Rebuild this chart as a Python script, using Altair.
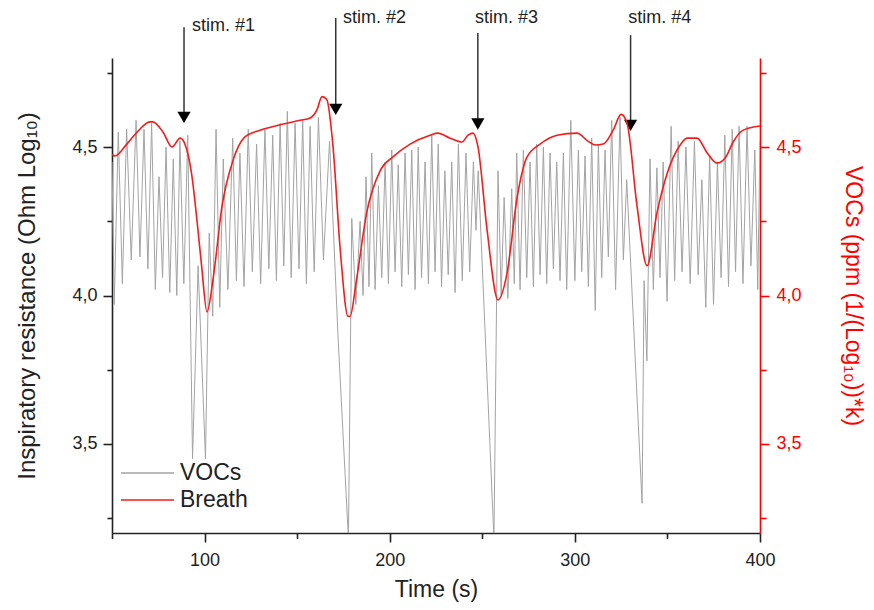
import altair as alt
import pandas as pd

FONT = "Liberation Sans"

# ---- VOCs trace (grey): alternating peaks / troughs ----
voc_time = [
    50.0, 51.2, 53.4, 55.6, 57.9, 60.4, 63.0, 65.1, 67.3, 69.4,
    71.4, 73.4, 75.4, 77.3, 79.2, 81.2, 83.1, 85.0, 86.7, 88.8,
    90.9, 93.5, 96.5, 100.5, 102.5, 104.4,
    106.2, 108.2, 110.1, 112.6, 115.2, 117.2, 119.1, 121.3, 123.6, 125.8,
    128.1, 130.3, 132.6, 134.7, 136.8, 138.8, 140.8, 142.8, 144.7, 146.8,
    148.9, 151.0, 153.0, 155.0, 157.0, 159.2, 161.5, 164.2, 167.5, 172.1,
    177.7,
    179.5, 181.7, 184.0, 185.6, 187.2, 188.8, 190.3, 192.1, 193.9, 195.7,
    197.5, 199.3, 201.1, 202.9, 204.6, 206.5, 208.3, 210.1, 211.9, 213.7,
    215.4, 217.2, 219.1, 220.9, 222.7, 224.5, 226.2, 228.0, 229.8, 231.6,
    233.5, 235.3, 237.1, 239.2, 241.2, 243.2, 245.2, 246.6, 247.8, 256.3,
    258.5, 260.2, 261.8, 263.8, 265.9, 267.3, 268.6, 270.4, 272.2, 274.0,
    275.8, 277.6, 279.4, 281.2, 283.0, 284.8, 286.6, 288.4, 290.2, 292.0,
    293.8, 295.6, 297.8, 300.0, 301.9, 303.7, 305.5, 307.3, 309.1, 311.0,
    312.7, 314.5, 316.3, 318.1, 319.9, 322.0, 324.4, 326.2, 328.0, 336.3,
    337.4, 338.9,
    340.6, 342.4, 344.3, 346.0, 347.7, 349.8, 352.0, 353.9, 355.8, 357.9,
    360.0, 362.3, 364.6, 366.6, 368.6, 370.7, 372.8, 374.9, 377.0, 379.0,
    381.0, 383.0, 385.0, 386.8, 388.7, 390.8, 393.0, 395.1, 397.2, 398.8,
    400.0,
]
voc_value = [
    4.45, 3.97, 4.55, 4.04, 4.56, 4.12, 4.59, 4.13, 4.56, 4.09,
    4.58, 4.02, 4.40, 4.06, 4.50, 4.01, 4.46, 4.00, 4.52, 4.04,
    4.54, 3.45, 4.10, 3.45, 4.21, 3.93,
    4.56, 3.96, 4.46, 4.02, 4.53, 4.05, 4.48, 4.03, 4.56, 4.08,
    4.51, 4.04, 4.56, 4.09, 4.54, 4.05, 4.58, 4.10, 4.62, 4.06,
    4.58, 4.09, 4.59, 4.04, 4.57, 4.08, 4.60, 4.12, 4.52, 3.86,
    3.18,
    4.26, 3.97, 4.25, 4.00, 4.40, 4.03, 4.48, 4.02, 4.37, 4.06,
    4.45, 4.04, 4.49, 4.08, 4.44, 4.03, 4.48, 4.07, 4.49, 4.02,
    4.50, 4.06, 4.45, 4.04, 4.54, 4.08, 4.51, 4.03, 4.42, 4.07,
    4.45, 4.01, 4.51, 4.05, 4.48, 4.08, 4.45, 4.22, 4.42, 3.18,
    4.42, 4.00, 4.33, 3.99, 4.36, 4.04, 4.48, 4.02, 4.49, 4.06,
    4.45, 4.03, 4.51, 4.07, 4.50, 4.04, 4.48, 4.09, 4.45, 4.05,
    4.48, 4.02, 4.59, 4.05, 4.49, 4.08, 4.47, 4.03, 4.53, 3.95,
    4.51, 4.06, 4.49, 4.13, 4.59, 4.02, 4.60, 4.12, 4.39, 3.30,
    4.05, 3.78,
    4.46, 4.02, 4.43, 4.06, 4.45, 3.98, 4.57, 4.05, 4.52, 4.08,
    4.50, 4.04, 4.52, 4.07, 4.39, 3.96, 4.47, 3.97, 4.45, 4.06,
    4.54, 4.03, 4.56, 4.08, 4.57, 4.04, 4.57, 4.10, 4.49, 4.02,
    4.52,
]

# ---- Breath trace (red) ----
breath_time = [
    50.0, 51.6, 58.0, 63.5, 70.5, 72.0, 77.6, 82.4, 86.8, 89.4,
    93.0, 96.6, 98.4, 101.3, 104.7, 109.4, 115.4, 121.8, 130.0, 140.8,
    151.6, 157.0, 160.7, 163.4, 166.0, 169.4, 173.2, 177.5, 178.6, 182.0,
    187.6, 194.8, 201.8, 211.0, 221.8, 226.0, 232.6, 239.0, 242.3, 245.0,
    247.7, 252.6, 258.5, 263.4, 268.8, 274.2, 281.2, 290.4, 301.2, 307.0,
    311.0, 315.3, 320.7, 325.0, 328.2, 333.6, 339.0, 344.4, 349.8, 356.9,
    360.6, 366.0, 371.5, 376.8, 381.2, 385.5, 390.9, 400.0,
]
breath_value = [
    4.474, 4.47, 4.51, 4.55, 4.585, 4.585, 4.55, 4.50, 4.53, 4.51,
    4.41, 4.21, 4.10, 3.945, 4.06, 4.30, 4.456, 4.534, 4.557, 4.575,
    4.59, 4.598, 4.625, 4.67, 4.66, 4.50, 4.16, 3.93, 3.93, 4.05,
    4.28, 4.42, 4.467, 4.51, 4.54, 4.547, 4.53, 4.517, 4.54, 4.547,
    4.50, 4.22, 3.985, 4.076, 4.33, 4.467, 4.51, 4.54, 4.547, 4.52,
    4.507, 4.51, 4.557, 4.61, 4.58, 4.30, 4.10, 4.28, 4.41, 4.507,
    4.53, 4.53, 4.48, 4.446, 4.463, 4.517, 4.557, 4.571,
]

# ---- stimulus annotations ----
stim_labels = ["stim. #1", "stim. #2", "stim. #3", "stim. #4"]
stim_time = [88.9, 170.85, 247.6, 330.1]
arrow_top = [4.904, 4.935, 4.884, 4.877]
arrow_head = [4.600, 4.627, 4.578, 4.573]
label_time = [93.2, 174.8, 246.1, 328.8]
label_value = [4.908, 4.935, 4.936, 4.936]

series_names = ["VOCs", "Breath"]
x_ticks = [50, 100, 150, 200, 250, 300, 350, 400]
y_ticks = [3.25, 3.5, 3.75, 4.0, 4.25, 4.5, 4.75]

voc_df = pd.DataFrame({"t": voc_time, "v": voc_value, "series": "VOCs"})
breath_df = pd.DataFrame({"t": breath_time, "v": breath_value, "series": "Breath"})
stim_df = pd.DataFrame({
    "t": stim_time, "top": arrow_top, "head": arrow_head,
    "label": stim_labels, "lt": label_time, "lv": label_value,
})

x_scale = alt.Scale(domain=[50, 400], nice=False, zero=False)
y_scale = alt.Scale(domain=[3.2, 4.8], nice=False, zero=False)

INK = "#222222"
RED = "#ff0000"
y_label_expr = "datum.value % 0.5 === 0 ? replace(format(datum.value, '.1f'), '.', ',') : ''"

x_axis = alt.Axis(
    values=x_ticks, title="Time (s)",
    labelExpr="datum.value % 100 === 0 ? datum.label : ''",
    labelFlush=False,
    tickSize={"condition": {"test": "datum.value % 100 === 0", "value": 9}, "value": 5.5},
    domainColor=INK, tickColor=INK, labelColor=INK, titleColor=INK,
    domainWidth=1.6, tickWidth=1.6, labelFontSize=18, labelPadding=9,
    titleFontSize=23, titleFontWeight="normal", titleY=63, titleBaseline="alphabetic",
    grid=False,
)
left_axis = alt.Axis(
    orient="left", values=y_ticks, title="Inspiratory resistance (Ohm Log₁₀)",
    labelExpr=y_label_expr, labelFlush=False,
    tickSize={"condition": {"test": "datum.value % 0.5 === 0", "value": 9}, "value": 5},
    domainColor=INK, tickColor=INK, labelColor=INK, titleColor=INK,
    domainWidth=1.6, tickWidth=1.6, labelFontSize=18, labelPadding=6,
    titleFontSize=24, titleFontWeight="normal", titleAngle=-90,
    titleX=-78, titleBaseline="alphabetic", grid=False,
)
right_axis = alt.Axis(
    orient="right", values=y_ticks, title="VOCs (ppm (1/(Log₁₀))*k)",
    labelExpr=y_label_expr, labelFlush=False,
    tickSize={"condition": {"test": "datum.value % 0.5 === 0", "value": 9}, "value": 6},
    domainColor=RED, tickColor=RED, labelColor=RED, titleColor=RED,
    domainWidth=1.6, tickWidth=1.6, labelFontSize=18, labelPadding=7,
    titleFontSize=23, titleFontWeight="normal", titleAngle=90,
    titleX=85, titleBaseline="alphabetic", grid=False,
)

color = alt.Color(
    "series:N",
    scale=alt.Scale(domain=series_names, range=["#a3a3a3", "#f51c1c"]),
    legend=alt.Legend(
        orient="none", legendX=8, legendY=401.5, title=None,
        symbolType="stroke", symbolSize=2809, symbolStrokeWidth=1.5,
        clipHeight=27, rowPadding=0, padding=0, labelOffset=5,
        labelFontSize=23, labelFont=FONT, labelColor=INK,
    ),
)

X = lambda field: alt.X(field, type="quantitative", scale=x_scale, axis=x_axis)
YL = lambda field: alt.Y(field, type="quantitative", scale=y_scale, axis=left_axis)

voc_line = alt.Chart(voc_df).mark_line(strokeWidth=1, clip=True).encode(
    x=X("t"), y=YL("v"), color=color, order="t:Q",
)

arrows = alt.Chart(stim_df).mark_rule(color="#333333", strokeWidth=1.5).encode(
    x=X("t"), y=YL("top"), y2="head:Q",
)
heads = alt.Chart(stim_df).mark_point(
    shape="triangle-down", filled=True, size=175, color="#000000", opacity=1
).encode(
    x=X("t"), y=YL("head"),
)
labels = alt.Chart(stim_df).mark_text(
    align="left", baseline="middle", fontSize=18, font=FONT, color=INK
).encode(
    x=X("lt"), y=YL("lv"), text="label:N",
)

left_layer = alt.layer(voc_line, arrows, heads, labels)

breath_line = alt.Chart(breath_df).mark_line(strokeWidth=1.6, interpolate="monotone").encode(
    x=X("t"),
    y=alt.Y("v:Q", scale=y_scale, axis=right_axis),
    color=color,
    order="t:Q",
)

chart = (
    alt.layer(left_layer, breath_line)
    .resolve_scale(y="independent")
    .properties(
        width=648, height=475,
        autosize=alt.AutoSizeParams(type="none"),
        padding={"left": 104, "top": 50, "right": 106, "bottom": 70},
        background="white",
    )
    .configure(font=FONT)
    .configure_view(stroke=None)
)

chart.save("out.html", embed_options={"renderer": "svg", "actions": False})
